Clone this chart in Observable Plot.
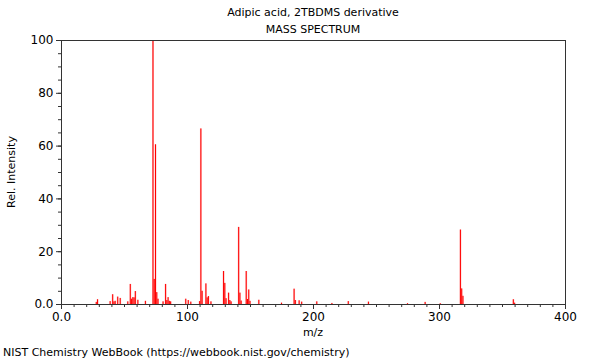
<!DOCTYPE html>
<html>
<head>
<meta charset="utf-8">
<script src="https://cdn.jsdelivr.net/npm/d3@7"></script>
<script src="https://cdn.jsdelivr.net/npm/@observablehq/plot@0.6"></script>
<style>
  html, body { margin: 0; padding: 0; background: #fff; }
  #wrap { position: relative; width: 600px; height: 360px; font-family: "DejaVu Sans", sans-serif; }
  .t { position: absolute; font-size: 11px; color: #000; white-space: nowrap; }
</style>
</head>
<body>
<div id="wrap">
  <div id="chart"></div>
  <div class="t" style="left:313px; top:6px; transform:translateX(-50%);">Adipic acid, 2TBDMS derivative</div>
  <div class="t" style="left:313px; top:23px; transform:translateX(-50%);">MASS SPECTRUM</div>
  <div class="t" style="left:313px; top:326px; transform:translateX(-50%);">m/z</div>
  <div class="t" style="left:11px; top:172px; transform:translate(-50%,-50%) rotate(-90deg);">Rel. Intensity</div>
  <div class="t" style="left:3px; top:346px;">NIST Chemistry WebBook (https://webbook.nist.gov/chemistry)</div>
</div>
<script>
const mz = [28,29,39,41,42,43,45,47,53,55,56,57,58,59,61,67,73,74,75,76,77,81,83,84,85,86,87,99,101,103,110,111,112,115,116,117,119,129,130,131,133,134,135,141,142,143,147,148,149,150,157,175,185,186,189,191,203,215,228,244,275,289,301,317,318,319,359,360];
const intensity = [0.8,1.8,1.1,3.7,1.0,1.2,2.8,2.3,1.0,7.6,2.0,2.6,2.5,4.9,1.6,1.2,100,9.5,60.5,4.5,2.0,1.0,7.6,1.5,2.6,1.2,1.0,2.0,1.5,0.9,1.1,66.5,5.0,7.8,2.5,3.0,1.0,12.5,8.0,2.2,4.3,1.5,1.0,29.2,4.3,1.3,12.5,1.9,5.5,1.2,1.6,0.5,5.8,1.5,1.4,0.9,1.0,0.4,1.1,0.9,0.3,0.8,0.3,28.2,5.9,3.1,1.8,0.5];
const xMajor = [0,100,200,300,400];
const xMinor = d3.range(0, 401, 10);
const yMajor = [0,20,40,60,80,100];
const yMinor = d3.range(0, 101, 5);
const fmt = d => d === 0 ? "0.0" : String(d);

const peaks = mz.map((m, i) => ({mz: m, y: intensity[i]}));

const chart = Plot.plot({
  width: 600,
  height: 360,
  marginLeft: 61,
  marginRight: 35,
  marginTop: 40,
  marginBottom: 56,
  style: {fontFamily: "DejaVu Sans, sans-serif", fontSize: "11px", color: "#000", background: "#fff"},
  x: {domain: [0, 400]},
  y: {domain: [0, 100]},
  marks: [
    Plot.rectY(peaks, {x1: d => d.mz - 0.75, x2: d => d.mz + 0.75, y1: 0, y2: "y", fill: "#ff0000", fillOpacity: 0.25, inset: 0}),
    Plot.rectY(peaks, {x1: d => d.mz - 0.4, x2: d => d.mz + 0.4, y1: 0, y2: "y", fill: "#ff0000", inset: 0}),
    Plot.frame({stroke: "#333", strokeWidth: 1}),
    Plot.axisX({ticks: xMinor, tickSize: 3, text: null, label: null, stroke: "#333"}),
    Plot.axisX({ticks: xMajor, tickSize: 5, tickPadding: 3, tickFormat: fmt, label: null, stroke: "#333", fontSize: 12}),
    Plot.axisY({ticks: yMinor, tickSize: 3, text: null, label: null, stroke: "#333"}),
    Plot.axisY({ticks: yMajor, tickSize: 5, tickPadding: 3, tickFormat: fmt, label: null, stroke: "#333", fontSize: 12})
  ]
});
document.getElementById("chart").appendChild(chart);
</script>
</body>
</html>
